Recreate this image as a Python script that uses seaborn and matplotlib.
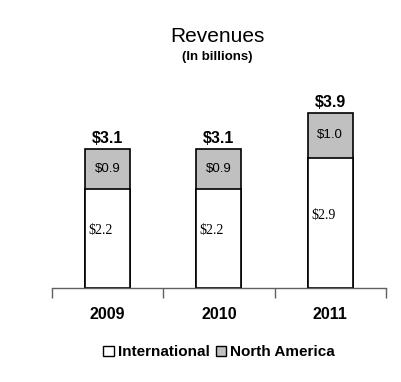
import numpy as np
import pandas as pd
import seaborn as sns
import matplotlib.pyplot as plt
from matplotlib.patches import Patch

years = ['2009', '2010', '2011']
international = [2.2, 2.2, 2.9]
north_america = [0.9, 0.9, 1.0]
totals = [3.1, 3.1, 3.9]

df = pd.DataFrame({'year': years, 'intl': international,
                   'na': north_america, 'total': totals})

sns.set_style('white')
plt.rcParams['font.family'] = ['Liberation Sans', 'DejaVu Sans']
plt.rcParams['text.color'] = 'black'
plt.rcParams['xtick.color'] = 'black'
plt.rcParams['xtick.labelcolor'] = 'black'

fig = plt.figure(figsize=(4.02, 3.82), dpi=100)
ax = fig.add_axes([0.129, 0.246, 0.831, 0.492])

gray = '#c0c0c0'
bw = 0.405
# stacked: total bar in gray, international drawn over it in white
sns.barplot(data=df, x='year', y='total', color=gray, width=bw,
            edgecolor='black', linewidth=1.2, saturation=1, ax=ax)
sns.barplot(data=df, x='year', y='intl', color='white', width=bw,
            edgecolor='black', linewidth=1.2, saturation=1, ax=ax)

for i, row in df.iterrows():
    ax.text(i, row['total'] + 0.05, f"${row['total']:.1f}", ha='center', va='bottom',
            fontsize=11.5, fontweight='bold')
    ax.text(i, row['intl'] + row['na'] / 2, f"${row['na']:.1f}", ha='center', va='center',
            fontsize=9.5, family=['Liberation Sans'])
    ax.text(i - bw / 2 + 0.03, row['intl'] / 2 + 0.17, f"${row['intl']:.1f}",
            ha='left', va='center', fontsize=10, family=['Liberation Serif'])

ax.set_xlim(-0.5, 2.5)
ax.set_ylim(0, 4.18)
ax.set_xlabel('')
ax.set_ylabel('')
ax.set_yticks([])
for s in ['top', 'right', 'left']:
    ax.spines[s].set_visible(False)
ax.spines['bottom'].set_color('#606060')
ax.spines['bottom'].set_linewidth(1)
ax.set_xticks([-0.5, 0.5, 1.5, 2.5], minor=True)
ax.tick_params(axis='x', which='minor', bottom=True, length=7, color='#606060',
               width=1, direction='out')
ax.tick_params(axis='x', which='major', bottom=True, length=0, pad=14)
ax.set_xticks(range(3))
ax.set_xticklabels(years, fontsize=11.5, fontweight='bold')

fig.text(0.54, 0.905, 'Revenues', ha='center', va='center', fontsize=15)
fig.text(0.54, 0.85, '(In billions)', ha='center', va='center', fontsize=9.5, fontweight='bold')

handles = [Patch(facecolor='white', edgecolor='black', label='International'),
           Patch(facecolor=gray, edgecolor='black', label='North America')]
fig.legend(handles=handles, loc='center', bbox_to_anchor=(0.545, 0.078), ncol=2,
           frameon=False, handlelength=0.7, handleheight=0.7, handletextpad=0.25,
           columnspacing=0.4, prop={'size': 11, 'weight': 'bold'})

fig.savefig('out.png', dpi=100)
